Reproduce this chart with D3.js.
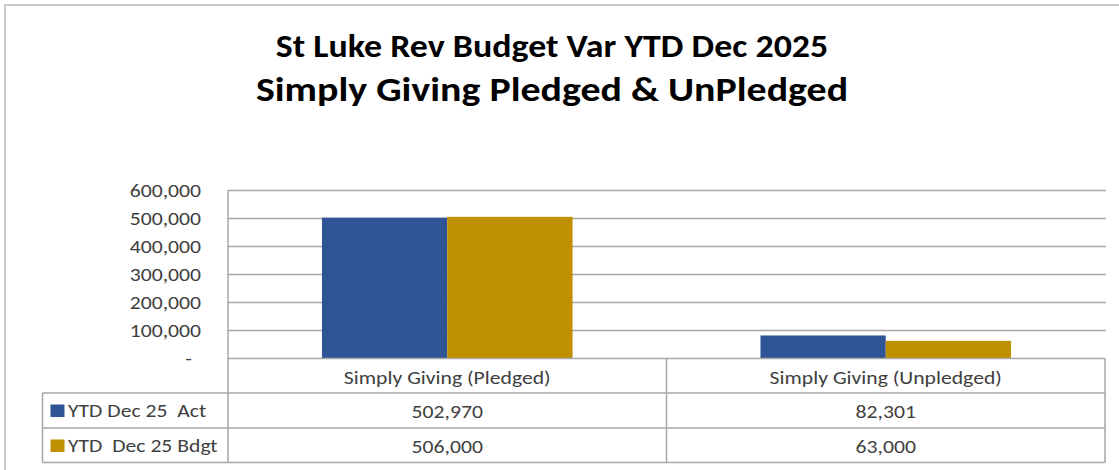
<!DOCTYPE html>
<html>
<head>
<meta charset="utf-8">
<script src="https://cdn.jsdelivr.net/npm/d3@7"></script>
<style>
  html, body { margin: 0; padding: 0; background: #ffffff; }
  svg { display: block; }
  text { white-space: pre; }
</style>
</head>
<body>
<svg id="chart" width="1119" height="470"></svg>
<script>
// Chart data
const titleLines = ["St Luke Rev Budget Var YTD Dec 2025", "Simply Giving Pledged & UnPledged"];
const categories = ["Simply Giving (Pledged)", "Simply Giving (Unpledged)"];
const seriesNames = ["YTD Dec 25  Act", "YTD  Dec 25 Bdgt"];
const actValues = [502970, 82301];
const bdgtValues = [506000, 63000];
const yTicks = [0, 100000, 200000, 300000, 400000, 500000, 600000];
const seriesColors = ["#2F5597", "#BF9000"];

const series = [
  { name: seriesNames[0], values: actValues, color: seriesColors[0] },
  { name: seriesNames[1], values: bdgtValues, color: seriesColors[1] }
];

const svg = d3.select("#chart");
const W = 1119, H = 470;
const gridColor = "#a6a6a6";
const textColor = "#404040";
const font = "Carlito, 'Open Sans', sans-serif";
const small = 19;      // body text size
const wide = 1.14;     // horizontal text stretch

// stretch a text selection horizontally by a factor
function stretch(sel, factor) {
  sel.each(function () {
    const w = this.getComputedTextLength();
    d3.select(this).attr("textLength", w * factor).attr("lengthAdjust", "spacingAndGlyphs");
  });
}

svg.append("rect").attr("width", W).attr("height", H).attr("fill", "#fff");
// chart area frame
svg.append("rect").attr("x", 5).attr("y", 5).attr("width", 1300).attr("height", 700)
  .attr("fill", "none").attr("stroke", "#cccccc").attr("stroke-width", 2);

// plot geometry
const plot = { left: 228, right: 1105, top: 190.5, bottom: 358.5 };
const table = { left: 42.5, rowH: [34.5, 35, 34.5] };

const x0 = d3.scaleBand().domain(categories).range([plot.left, plot.right]).padding(0);
const x1 = d3.scaleBand().domain(seriesNames).range([0, x0.bandwidth()])
  .paddingInner(0).paddingOuter(0.75);
const y = d3.scaleLinear().domain([0, 600000]).range([plot.bottom, plot.top]);

// titles
const title = svg.append("g").attr("font-family", font).attr("font-weight", "bold")
  .attr("fill", "#000").attr("text-anchor", "middle");
title.selectAll("text").data(titleLines).join("text")
  .attr("x", 552)
  .attr("y", (d, i) => i === 0 ? 56.5 : 100.5)
  .attr("font-size", (d, i) => i === 0 ? 31.5 : 35)
  .text(d => d)
  .call(stretch, wide);

// gridlines
svg.append("g").selectAll("line").data(yTicks.filter(t => t > 0)).join("line")
  .attr("x1", plot.left).attr("x2", plot.right + 1)
  .attr("y1", d => y(d)).attr("y2", d => y(d))
  .attr("stroke", gridColor).attr("stroke-width", 1.5);

// y axis labels
const yAxis = svg.append("g").attr("transform", `translate(${plot.left},0)`)
  .call(d3.axisLeft(y).tickValues(yTicks).tickSize(0).tickPadding(27)
    .tickFormat(d => d === 0 ? "-" : d3.format(",")(d)));
yAxis.select(".domain").remove();
yAxis.selectAll("text").attr("font-family", font).attr("font-size", small)
  .attr("fill", textColor)
  .attr("dx", d => d === 0 ? -9 : 0)
  .call(stretch, wide);

// bars
const groups = svg.append("g").selectAll("g").data(categories).join("g")
  .attr("transform", d => `translate(${x0(d)},0)`);
groups.selectAll("rect").data((c, ci) => series.map(s => ({ s, v: s.values[ci] }))).join("rect")
  .attr("x", d => x1(d.s.name)).attr("width", x1.bandwidth())
  .attr("y", d => y(d.v)).attr("height", d => y(0) - y(d.v))
  .attr("fill", d => d.s.color);

// data table
const rowY = [plot.bottom];
table.rowH.forEach(h => rowY.push(rowY[rowY.length - 1] + h));
const tg = svg.append("g").attr("stroke", gridColor).attr("stroke-width", 1.5);
// horizontal rules
tg.append("line").attr("x1", plot.left).attr("x2", plot.right).attr("y1", rowY[0]).attr("y2", rowY[0]);
[1, 2, 3].forEach(i => tg.append("line").attr("x1", table.left).attr("x2", plot.right)
  .attr("y1", rowY[i]).attr("y2", rowY[i]));
// vertical rules
tg.append("line").attr("x1", plot.left).attr("x2", plot.left).attr("y1", plot.top).attr("y2", rowY[3]);
tg.append("line").attr("x1", table.left).attr("x2", table.left).attr("y1", rowY[1]).attr("y2", rowY[3]);
categories.forEach(c => {
  const xr = x0(c) + x0.bandwidth();
  tg.append("line").attr("x1", xr).attr("x2", xr).attr("y1", rowY[0]).attr("y2", rowY[3]);
});

const tt = svg.append("g").attr("font-family", font).attr("font-size", small).attr("fill", textColor);
// category labels
tt.selectAll("text.cat").data(categories).join("text").attr("class", "cat")
  .attr("x", d => x0(d) + x0.bandwidth() / 2).attr("y", rowY[0] + 25)
  .attr("text-anchor", "middle").text(d => d)
  .call(stretch, wide);
// values
series.forEach((s, si) => {
  tt.selectAll(`text.v${si}`).data(s.values).join("text").attr("class", `v${si}`)
    .attr("x", (d, i) => x0(categories[i]) + x0.bandwidth() / 2)
    .attr("y", rowY[si + 1] + 24.5)
    .attr("text-anchor", "middle").text(d => d3.format(",")(d))
    .call(stretch, wide);
});
// legend keys
const lg = svg.append("g").selectAll("g").data(series).join("g")
  .attr("transform", (d, i) => `translate(${table.left + 8},${rowY[i + 1]})`);
lg.append("rect").attr("x", 0).attr("y", 11.5).attr("width", 14).attr("height", 12.5)
  .attr("fill", d => d.color);
lg.append("text").attr("x", 17.5).attr("y", 24)
  .attr("font-family", font).attr("font-size", small).attr("fill", textColor)
  .text(d => d.name)
  .call(stretch, wide);
</script>
</body>
</html>
